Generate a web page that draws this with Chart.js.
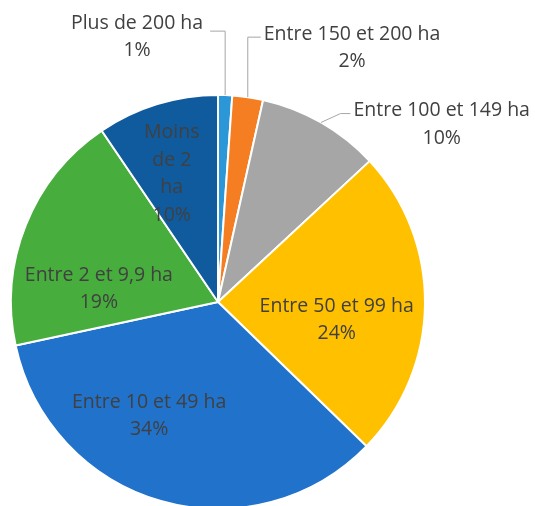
<!DOCTYPE html>
<html>
<head>
<meta charset="utf-8">
<script src="https://cdn.jsdelivr.net/npm/chart.js@4/dist/chart.umd.min.js"></script>
<style>
  html, body { margin: 0; padding: 0; background: #fff; overflow: hidden; }
  #wrap { width: 535px; height: 506px; overflow: hidden; }
</style>
</head>
<body>
<div id="wrap"><canvas id="torta" width="535" height="520"></canvas></div>
<script>
// tranches de surface (sens horaire depuis midi)
var categories = [["Plus de 200 ha"], ["Entre 150 et 200 ha"], ["Entre 100 et 149 ha"],
  ["Entre 50 et 99 ha"], ["Entre 10 et 49 ha"], ["Entre 2 et 9,9 ha"], ["Moins", "de 2", "ha"]];
// parts (les etiquettes sont arrondies)
var parts = [1.1, 2.4, 9.6, 24.2, 34.4, 18.9, 9.5];
var percentLabels = ["1%", "2%", "10%", "24%", "34%", "19%", "10%"];
var colors = ["#2C97D7", "#F57D22", "#A6A6A6", "#FFC000", "#2172CA", "#47AE3D", "#0F5B9E"];

//position des etiquettes: dehors avec trait ou dedans
var placement = [
  { out: true, bendX: 0, rise: 64, run: -15, gap: 7, dy: -8 },
  { out: true, bendX: 0, rise: 60, run: 13, gap: 3, dy: -3 },
  { out: true, bendX: 19.4, rise: 8.9, run: 10, gap: 3, dy: -3 },
  { out: false, turn: 8.0, dist: 0.58 },
  { out: false, turn: 15.1, dist: 0.644 },
  { out: false, turn: -15.5, dist: 0.579 },
  { out: false, turn: -2.8, dist: 0.657 }
];

var FONT = "19.5px 'Open Sans'";
var LINE_H = 27.5;

function drawBlock(ctx, lines, cx, firstY) {
  for (var k = 0; k < lines.length; k++) {
    ctx.fillText(lines[k], cx, firstY + k * LINE_H);
  }
}

var etichette = {
  id: "etichette",
  afterDatasetsDraw: function(chart) {
    var ctx = chart.ctx;
    var arcs = chart.getDatasetMeta(0).data;
    ctx.save();
    ctx.font = FONT;
    ctx.fillStyle = "#404040";
    ctx.textBaseline = "middle";
    ctx.textAlign = "center";
    for (var i = 0; i < arcs.length; i++) {
      var p = arcs[i].getProps(["x", "y", "startAngle", "endAngle", "outerRadius"], true);
      var mid = (p.startAngle + p.endAngle) / 2;
      var pl = placement[i];
      var lines = categories[i].concat([percentLabels[i]]);
      if (pl.out) {
        var ex = p.x + Math.cos(mid) * p.outerRadius;
        var ey = p.y + Math.sin(mid) * p.outerRadius;
        var bx = ex + pl.bendX;
        var by = ey - pl.rise;
        var lx = bx + pl.run;
        ctx.strokeStyle = "#A6A6A6";
        ctx.lineWidth = 1;
        ctx.beginPath();
        ctx.moveTo(ex, ey);
        ctx.lineTo(bx, by);
        ctx.lineTo(lx, by);
        ctx.stroke();
        var w = 0;
        for (var k = 0; k < lines.length; k++) w = Math.max(w, ctx.measureText(lines[k]).width);
        var cx = pl.run < 0 ? lx - pl.gap - w / 2 : lx + pl.gap + w / 2;
        drawBlock(ctx, lines, cx, by + pl.dy);
      } else {
        var a = mid + pl.turn * Math.PI / 180;
        var r = p.outerRadius * pl.dist;
        var tx = p.x + Math.cos(a) * r;
        var ty = p.y + Math.sin(a) * r;
        drawBlock(ctx, lines, tx, ty - (lines.length - 1) * LINE_H / 2);
      }
    }
    ctx.restore();
  }
};

var grafico = new Chart(document.getElementById("torta"), {
  type: "pie",
  data: {
    labels: categories,
    datasets: [{
      data: parts,
      backgroundColor: colors,
      borderColor: "#ffffff",
      borderWidth: 2
    }]
  },
  options: {
    responsive: false,
    animation: false,
    layout: { padding: { left: 10, top: 94, right: 109, bottom: 10 } },
    plugins: {
      legend: { display: false },
      tooltip: { enabled: false }
    }
  },
  plugins: [etichette]
});
</script>
</body>
</html>
